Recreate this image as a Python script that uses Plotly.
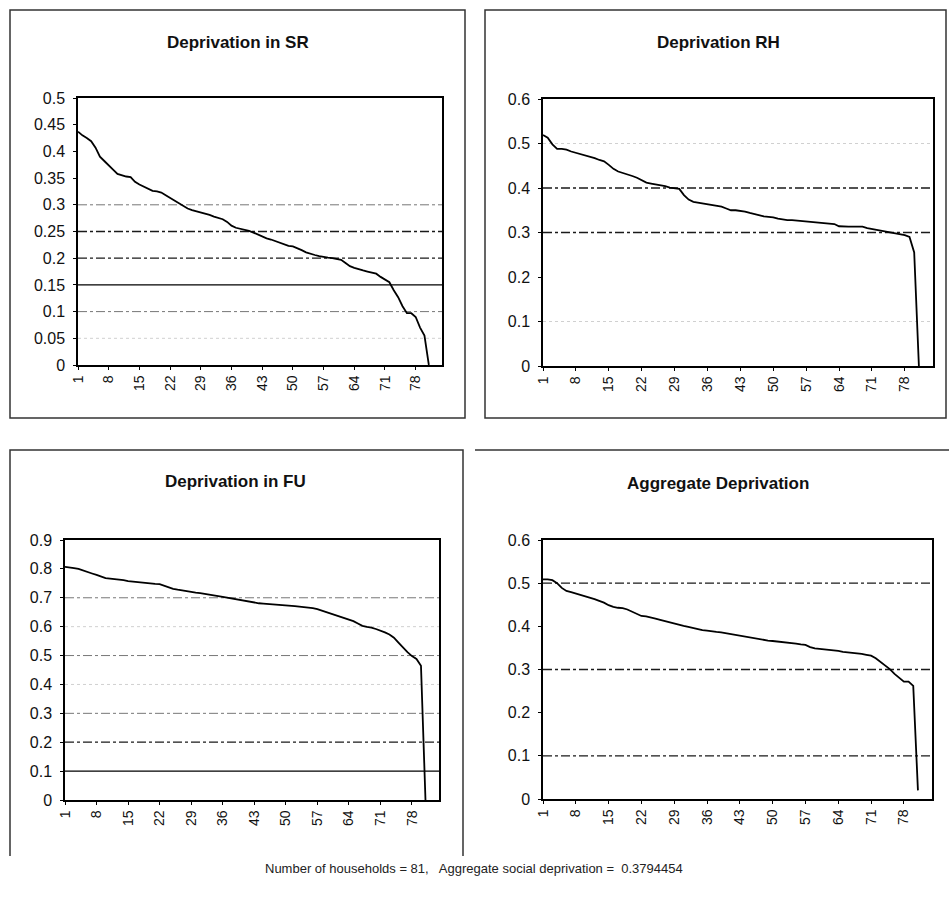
import plotly.graph_objects as go

# ---------------- data ----------------
households = list(range(1, 82))

sr_values = [
    0.437, 0.430, 0.425, 0.419, 0.407, 0.390, 0.382, 0.373, 0.366, 0.358,
    0.355, 0.353, 0.352, 0.343, 0.338, 0.334, 0.329, 0.326, 0.325, 0.323,
    0.318, 0.313, 0.307, 0.302, 0.297, 0.293, 0.290, 0.288, 0.286, 0.284,
    0.281, 0.278, 0.275, 0.273, 0.268, 0.261, 0.257, 0.255, 0.254, 0.251,
    0.248, 0.244, 0.240, 0.237, 0.235, 0.232, 0.228, 0.225, 0.223, 0.222,
    0.219, 0.215, 0.211, 0.208, 0.206, 0.204, 0.202, 0.201, 0.200, 0.198,
    0.197, 0.191, 0.185, 0.182, 0.179, 0.177, 0.175, 0.173, 0.171, 0.165,
    0.160, 0.155, 0.140, 0.127, 0.110, 0.097, 0.097, 0.090, 0.070, 0.055,
    0.0,
]

rh_values = [
    0.519, 0.513, 0.498, 0.488, 0.488, 0.486, 0.482, 0.479, 0.477, 0.474,
    0.471, 0.467, 0.463, 0.460, 0.452, 0.443, 0.437, 0.434, 0.431, 0.427,
    0.423, 0.417, 0.412, 0.410, 0.408, 0.407, 0.404, 0.401, 0.399, 0.398,
    0.384, 0.374, 0.369, 0.367, 0.365, 0.364, 0.362, 0.360, 0.358, 0.354,
    0.350, 0.350, 0.349, 0.347, 0.344, 0.341, 0.338, 0.336, 0.335, 0.334,
    0.331, 0.329, 0.328, 0.328, 0.327, 0.326, 0.326, 0.325, 0.324, 0.322,
    0.321, 0.320, 0.319, 0.314, 0.313, 0.313, 0.313, 0.313, 0.313, 0.310,
    0.308, 0.305, 0.303, 0.302, 0.300, 0.297, 0.296, 0.294, 0.290, 0.255,
    0.0,
]

fu_values = [
    0.807, 0.806, 0.803, 0.800, 0.794, 0.789, 0.784, 0.779, 0.774, 0.768,
    0.766, 0.765, 0.764, 0.761, 0.758, 0.756, 0.754, 0.752, 0.750, 0.749,
    0.748, 0.747, 0.742, 0.735, 0.731, 0.728, 0.725, 0.722, 0.720, 0.718,
    0.716, 0.714, 0.712, 0.710, 0.706, 0.703, 0.700, 0.697, 0.694, 0.691,
    0.689, 0.686, 0.683, 0.681, 0.680, 0.679, 0.678, 0.677, 0.675, 0.673,
    0.672, 0.671, 0.669, 0.668, 0.667, 0.664, 0.661, 0.656, 0.650, 0.645,
    0.640, 0.635, 0.630, 0.625, 0.619, 0.611, 0.603, 0.599, 0.597, 0.592,
    0.587, 0.580, 0.573, 0.562, 0.545, 0.527, 0.512, 0.498, 0.488, 0.465,
    0.0,
]

agg_values = [
    0.509, 0.509, 0.507, 0.500, 0.489, 0.482, 0.479, 0.476, 0.472, 0.469,
    0.466, 0.463, 0.459, 0.455, 0.449, 0.445, 0.443, 0.442, 0.439, 0.434,
    0.428, 0.424, 0.423, 0.421, 0.418, 0.415, 0.412, 0.409, 0.406, 0.403,
    0.401, 0.399, 0.396, 0.393, 0.391, 0.390, 0.388, 0.387, 0.386, 0.384,
    0.383, 0.380, 0.378, 0.376, 0.374, 0.372, 0.371, 0.369, 0.367, 0.366,
    0.365, 0.364, 0.362, 0.361, 0.360, 0.358, 0.357, 0.352, 0.349, 0.348,
    0.347, 0.346, 0.345, 0.343, 0.341, 0.340, 0.339, 0.338, 0.336, 0.334,
    0.332, 0.326, 0.318, 0.311, 0.301, 0.290, 0.280, 0.272, 0.272, 0.262,
    0.020,
]

x_tick_values = [1, 8, 15, 22, 29, 36, 43, 50, 57, 64, 71, 78]

sr_ticks = [0, 0.05, 0.1, 0.15, 0.2, 0.25, 0.3, 0.35, 0.4, 0.45, 0.5]
sr_ticktext = ["0", "0.05", "0.1", "0.15", "0.2", "0.25", "0.3", "0.35", "0.4", "0.45", "0.5"]
rh_ticks = [0, 0.1, 0.2, 0.3, 0.4, 0.5, 0.6]
rh_ticktext = ["0", "0.1", "0.2", "0.3", "0.4", "0.5", "0.6"]
fu_ticks = [0, 0.1, 0.2, 0.3, 0.4, 0.5, 0.6, 0.7, 0.8, 0.9]
fu_ticktext = ["0", "0.1", "0.2", "0.3", "0.4", "0.5", "0.6", "0.7", "0.8", "0.9"]
agg_ticks = [0, 0.1, 0.2, 0.3, 0.4, 0.5, 0.6]
agg_ticktext = ["0", "0.1", "0.2", "0.3", "0.4", "0.5", "0.6"]

titles = ["Deprivation in SR", "Deprivation RH", "Deprivation in FU", "Aggregate Deprivation"]
footer_text = "Number of households = 81,   Aggregate social deprivation =  0.3794454"

# gridline appearance (value -> style) mimicking the scanned original
STYLE = {
    "dark": dict(color="#1a1a1a", width=1.3, dash="dashdot"),
    "solid": dict(color="#000000", width=1.3, dash="solid"),
    "mid": dict(color="#777777", width=1.0, dash="dashdot"),
    "faint": dict(color="#d0d0d0", width=1.0, dash="dot"),
}
sr_grid = [(0.05, "faint"), (0.1, "mid"), (0.15, "solid"), (0.2, "dark"), (0.25, "dark"), (0.3, "mid")]
rh_grid = [(0.1, "faint"), (0.3, "dark"), (0.4, "dark"), (0.5, "faint")]
fu_grid = [(0.1, "solid"), (0.2, "dark"), (0.3, "mid"), (0.4, "faint"), (0.5, "mid"), (0.6, "faint"), (0.7, "mid")]
agg_grid = [(0.1, "dark"), (0.3, "dark"), (0.5, "dark")]

# ---------------- layout helpers ----------------
W, H = 949, 901
FONT = "Liberation Sans, Arial, sans-serif"


def dx(a, b):
    return [a / W, b / W]


def dy(top, bottom):
    return [1 - bottom / H, 1 - top / H]


panels = [
    dict(vals=sr_values, ticks=sr_ticks, ttext=sr_ticktext, ymax=0.5, grid=sr_grid,
         xd=dx(78, 442), yd=dy(98, 365), title=titles[0], tx=238, ty=43),
    dict(vals=rh_values, ticks=rh_ticks, ttext=rh_ticktext, ymax=0.6, grid=rh_grid,
         xd=dx(543, 933), yd=dy(99, 366), title=titles[1], tx=718, ty=43),
    dict(vals=fu_values, ticks=fu_ticks, ttext=fu_ticktext, ymax=0.9, grid=fu_grid,
         xd=dx(65, 439), yd=dy(540, 800), title=titles[2], tx=235, ty=482),
    dict(vals=agg_values, ticks=agg_ticks, ttext=agg_ticktext, ymax=0.6, grid=agg_grid,
         xd=dx(543, 932), yd=dy(540, 799), title=titles[3], tx=718, ty=483),
]

fig = go.Figure()
layout = dict(
    template="none",
    width=W, height=H,
    margin=dict(l=0, r=0, t=0, b=0, pad=0, autoexpand=False),
    paper_bgcolor="white", plot_bgcolor="white",
    showlegend=False,
    font=dict(family=FONT, color="#111111"),
)
shapes = []
annotations = []

for i, p in enumerate(panels, start=1):
    sx = "" if i == 1 else str(i)
    xname, yname = "x" + sx, "y" + sx
    fig.add_trace(go.Scatter(
        x=households, y=p["vals"], mode="lines",
        line=dict(color="black", width=1.8),
        xaxis=xname, yaxis=yname, hoverinfo="x+y",
    ))
    layout["xaxis" + sx] = dict(
        domain=p["xd"], anchor=yname, range=[1, 84], automargin=False,
        tickmode="array", tickvals=x_tick_values, ticktext=[str(v) for v in x_tick_values],
        tickangle=-90, ticks="outside", ticklen=3, tickcolor="black",
        showline=True, linecolor="black", linewidth=1.5, mirror=True,
        showgrid=False, zeroline=False,
        tickfont=dict(size=14, family=FONT, color="#111111"),
    )
    layout["yaxis" + sx] = dict(
        domain=p["yd"], anchor=xname, range=[0, p["ymax"]], automargin=False,
        tickmode="array", tickvals=p["ticks"], ticktext=p["ttext"],
        ticks="outside", ticklen=3, tickcolor="black", ticklabelstandoff=5,
        showline=True, linecolor="black", linewidth=1.5, mirror=True,
        showgrid=False, zeroline=False,
        tickfont=dict(size=16, family=FONT, color="#111111"),
    )
    for val, st in p["grid"]:
        shapes.append(dict(
            type="line", xref=xname + " domain", yref=yname,
            x0=0, x1=1, y0=val, y1=val, line=STYLE[st], layer="below",
        ))
    annotations.append(dict(
        text="<b>" + p["title"] + "</b>", xref="paper", yref="paper",
        x=p["tx"] / W, y=1 - p["ty"] / H, xanchor="center", yanchor="middle",
        showarrow=False, font=dict(size=17, family=FONT, color="#111111"),
    ))

# chart-area frames (as in the scanned page)
frame = dict(color="#333333", width=1.5)
shapes.append(dict(type="rect", xref="paper", yref="paper",
                   x0=10 / W, x1=465 / W, y0=1 - 418 / H, y1=1 - 10 / H, line=frame))
shapes.append(dict(type="rect", xref="paper", yref="paper",
                   x0=485 / W, x1=946 / W, y0=1 - 418 / H, y1=1 - 10 / H, line=frame))
shapes.append(dict(type="path", xref="paper", yref="paper",
                   path="M {a},{b} L {a},{c} L {d},{c} L {d},{b}".format(
                       a=10 / W, b=1 - 856 / H, c=1 - 450 / H, d=463 / W),
                   line=frame))
shapes.append(dict(type="line", xref="paper", yref="paper",
                   x0=475 / W, x1=949 / W, y0=1 - 450 / H, y1=1 - 450 / H, line=frame))

annotations.append(dict(
    text=footer_text, xref="paper", yref="paper",
    x=474 / W, y=1 - 868 / H, xanchor="center", yanchor="middle",
    showarrow=False, font=dict(size=13, family=FONT, color="#222222"),
))

layout["shapes"] = shapes
layout["annotations"] = annotations
fig.update_layout(**layout)
fig.write_html("out.html", config={"displayModeBar": False},
               post_script="document.body.style.margin='0';")
